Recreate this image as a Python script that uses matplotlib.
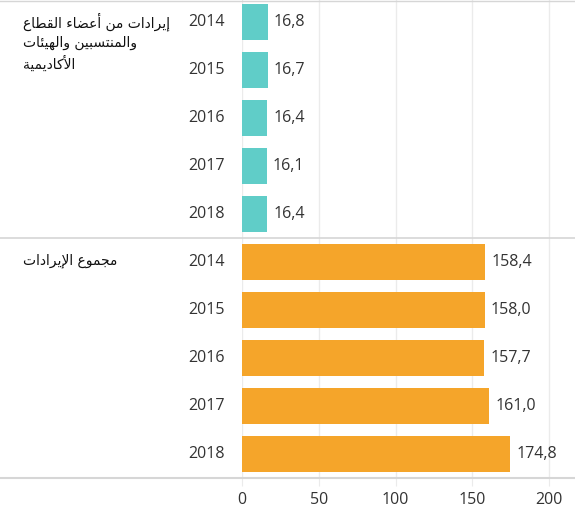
import matplotlib
matplotlib.use("Agg")
import matplotlib.pyplot as plt

# بيانات الإيرادات
years = ["2014", "2015", "2016", "2017", "2018"]
members_income = [16.8, 16.7, 16.4, 16.1, 16.4]
total_income = [158.4, 158.0, 157.7, 161.0, 174.8]
x_ticks = [0, 50, 100, 150, 200]

label_members = "إيرادات من أعضاء القطاع\nوالمنتسبين والهيئات\nالأكاديمية"
label_total = "مجموع الإيرادات"

TEAL = "#60cdc8"
ORANGE = "#f5a52a"
GRID = "#ebebeb"
RULE = "#d6d6d6"
TEXT = "#333333"

# matplotlib لا يقوم بتشكيل الحروف العربية، لذلك نحوّلها إلى أشكال العرض
# (base codepoint, number of forms): 4 = dual joining, 2 = right joining
FORMS = {
    "ء": (0xFE80, 1), "أ": (0xFE83, 2), "إ": (0xFE87, 2), "ئ": (0xFE89, 4),
    "ا": (0xFE8D, 2), "ب": (0xFE8F, 4), "ة": (0xFE93, 2), "ت": (0xFE95, 4),
    "ج": (0xFE9D, 4), "د": (0xFEA9, 2), "ر": (0xFEAD, 2), "س": (0xFEB1, 4),
    "ض": (0xFEBD, 4), "ط": (0xFEC1, 4), "ع": (0xFEC9, 4), "ق": (0xFED5, 4),
    "ك": (0xFED9, 4), "ل": (0xFEDD, 4), "م": (0xFEE1, 4), "ن": (0xFEE5, 4),
    "ه": (0xFEE9, 4), "و": (0xFEED, 2), "ي": (0xFEF1, 4),
}
LAM_ALEF = {"أ": 0xFEF7, "إ": 0xFEF9, "ا": 0xFEFB}


def shape_line(line):
    out = []
    i = 0
    while i < len(line):
        c = line[i]
        if c not in FORMS:
            out.append(c)
            i += 1
            continue
        prev = line[i - 1] if i > 0 else None
        joins_prev = prev in FORMS and FORMS[prev][1] == 4
        if c == "ل" and i + 1 < len(line) and line[i + 1] in LAM_ALEF:
            base = LAM_ALEF[line[i + 1]]
            out.append(chr(base + 1 if joins_prev else base))
            i += 2
            continue
        nxt = line[i + 1] if i + 1 < len(line) else None
        base, n = FORMS[c]
        joins_next = n == 4 and nxt in FORMS
        if joins_prev and joins_next:
            code = base + 3
        elif joins_prev and n > 1:
            code = base + 1
        elif joins_next:
            code = base + 2
        else:
            code = base
        out.append(chr(code))
        i += 1
    return "".join(out)[::-1]


def arabic(text):
    return "\n".join(shape_line(l) for l in text.split("\n"))


plt.rcParams["font.family"] = ["Open Sans", "DejaVu Sans"]

W, H = 575, 516
X0, SCALE = 242, 1.535          # pixel of x=0, pixels per unit
fig = plt.figure(figsize=(W / 100, H / 100), dpi=100)
ax = fig.add_axes([X0 / W, 1 - 478 / H, 1 - X0 / W, 478 / H])

n = len(years)
pos_top = list(range(n))
pos_bottom = [p + n for p in range(n)]

ax.barh(pos_top, members_income, height=0.74, color=TEAL, zorder=3)
ax.barh(pos_bottom, total_income, height=0.74, color=ORANGE, zorder=3)

for p, v in zip(pos_top + pos_bottom, members_income + total_income):
    ax.annotate(f"{v:.1f}".replace(".", ","), xy=(v, p),
                xytext=(4.5, 0), textcoords="offset points",
                va="center", ha="left", fontsize=11.5, color=TEXT)

for p, y in zip(pos_top + pos_bottom, years + years):
    ax.annotate(y, xy=(0, p), xycoords=("axes fraction", "data"),
                xytext=(-12.5, 0), textcoords="offset points",
                ha="right", va="center", fontsize=11.5, color=TEXT)

ax.set_xlim(0, (W - X0) / SCALE)
ax.set_ylim(9.5, -0.46)
ax.set_xticks(x_ticks)
ax.set_xticklabels([str(t) for t in x_ticks], fontsize=11.5, color=TEXT)
ax.set_yticks([])
ax.tick_params(axis="x", length=6, color=GRID, pad=4)
ax.grid(axis="x", color=GRID, linewidth=1, zorder=0)
for s in ax.spines.values():
    s.set_visible(False)

# خطوط الفصل الأفقية
for yl, lw in [(-0.44, 1.0), (4.5, 1.2), (9.5, 1.5)]:
    ax.plot([-0.9, 1], [yl, yl], transform=ax.get_yaxis_transform(),
            color=RULE, linewidth=lw, clip_on=False, zorder=4)

fig.text(23 / W, 1 - 12 / H, arabic(label_members), ha="left", va="top",
         fontsize=10, color="#111111", linespacing=1.45,
         family=["DejaVu Sans"])
fig.text(23 / W, 1 - 253 / H, arabic(label_total), ha="left", va="top",
         fontsize=10, color="#111111", family=["DejaVu Sans"])

fig.savefig("out.png", dpi=100)
